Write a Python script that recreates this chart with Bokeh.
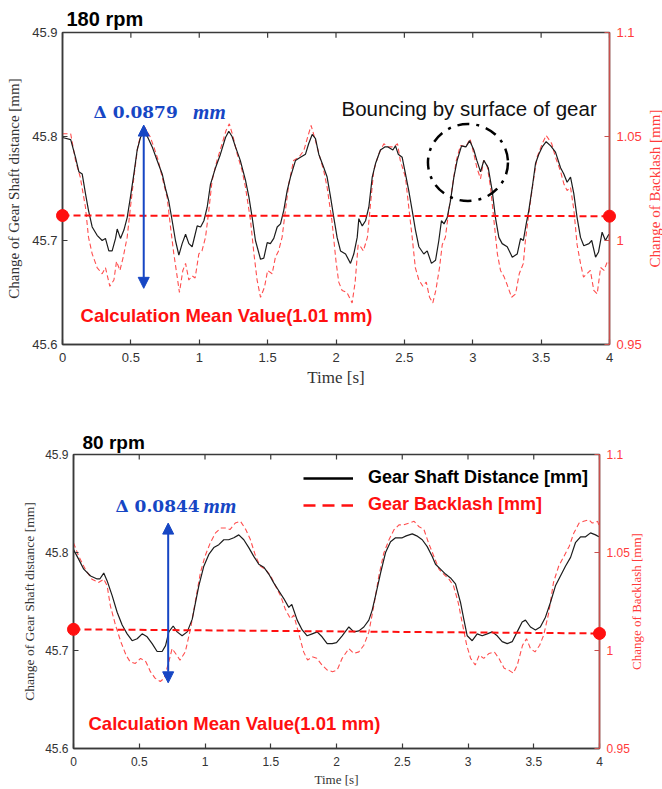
import math
from bokeh.plotting import figure
from bokeh.models import (Range1d, LinearAxis, FixedTicker, CustomJSTickFormatter,
                          Arrow, NormalHead, Legend, LegendItem, Label)
from bokeh.core.properties import value
from bokeh.embed import file_html
from bokeh.resources import INLINE

# ---------------- data: 180 rpm ----------------
top_t_gsd = [0.00, 0.06, 0.095, 0.12, 0.144, 0.168, 0.19, 0.217, 0.253, 0.29, 0.314, 0.339, 0.363, 0.388, 0.40,
             0.424, 0.449, 0.473, 0.497, 0.522, 0.546, 0.57, 0.595, 0.624, 0.656, 0.692, 0.729, 0.753, 0.777,
             0.802, 0.826, 0.851, 0.875, 0.90, 0.924, 0.948, 0.985, 1.01, 1.034, 1.058, 1.082, 1.119, 1.155,
             1.192, 1.216, 1.24, 1.265, 1.30, 1.338, 1.363, 1.387, 1.411, 1.448, 1.472, 1.497, 1.52, 1.545,
             1.57, 1.594, 1.618, 1.643, 1.667, 1.704, 1.74, 1.777, 1.80, 1.826, 1.85, 1.874, 1.911, 1.935,
             1.96, 1.984, 2.008, 2.033, 2.07, 2.106, 2.13, 2.155, 2.167, 2.192, 2.216, 2.24, 2.265, 2.289,
             2.325, 2.357, 2.38, 2.416, 2.435, 2.455, 2.484, 2.508, 2.532, 2.557, 2.581, 2.606, 2.642, 2.667,
             2.698, 2.728, 2.752, 2.771, 2.79, 2.813, 2.837, 2.862, 2.886, 2.918, 2.95, 2.978, 3.008, 3.03,
             3.057, 3.081, 3.113, 3.142, 3.166, 3.191, 3.215, 3.252, 3.289, 3.325, 3.35, 3.37, 3.391, 3.41,
             3.435, 3.459, 3.483, 3.508, 3.537, 3.57, 3.605, 3.642, 3.666, 3.69, 3.715, 3.739, 3.763, 3.788,
             3.812, 3.85, 3.87, 3.898, 3.92, 3.946, 3.97, 3.995]
top_gsd = [45.799, 45.797, 45.780, 45.766, 45.764, 45.745, 45.729, 45.713, 45.705, 45.700, 45.702, 45.690,
           45.690, 45.702, 45.711, 45.702, 45.710, 45.722, 45.742, 45.764, 45.787, 45.799, 45.805, 45.799,
           45.790, 45.777, 45.764, 45.750, 45.738, 45.719, 45.700, 45.686, 45.697, 45.706, 45.697, 45.694,
           45.714, 45.713, 45.719, 45.732, 45.754, 45.770, 45.783, 45.799, 45.805, 45.800, 45.790, 45.777,
           45.758, 45.742, 45.722, 45.700, 45.682, 45.683, 45.698, 45.697, 45.702, 45.713, 45.716, 45.729,
           45.748, 45.761, 45.777, 45.780, 45.783, 45.793, 45.802, 45.798, 45.783, 45.770, 45.761, 45.742,
           45.722, 45.703, 45.690, 45.687, 45.678, 45.687, 45.703, 45.721, 45.714, 45.719, 45.732, 45.761,
           45.774, 45.787, 45.790, 45.790, 45.787, 45.791, 45.783, 45.780, 45.764, 45.748, 45.729, 45.710,
           45.694, 45.687, 45.690, 45.678, 45.681, 45.700, 45.719, 45.716, 45.722, 45.738, 45.761, 45.777,
           45.791, 45.790, 45.796, 45.787, 45.777, 45.766, 45.777, 45.770, 45.748, 45.722, 45.703, 45.697,
           45.694, 45.684, 45.687, 45.702, 45.700, 45.716, 45.729, 45.751, 45.774, 45.783, 45.790, 45.795,
           45.791, 45.785, 45.770, 45.764, 45.756, 45.761, 45.745, 45.722, 45.703, 45.695, 45.697, 45.700,
           45.684, 45.689, 45.708, 45.700, 45.706]

top_t_bl = [0.00, 0.06, 0.095, 0.13, 0.168, 0.19, 0.217, 0.253, 0.29, 0.314, 0.346, 0.376, 0.395, 0.42, 0.444,
            0.473, 0.497, 0.522, 0.55, 0.58, 0.60, 0.64, 0.668, 0.70, 0.729, 0.765, 0.79, 0.814, 0.839, 0.855,
            0.88, 0.90, 0.924, 0.948, 0.97, 0.997, 1.02, 1.046, 1.07, 1.094, 1.13, 1.167, 1.196, 1.22, 1.247,
            1.277, 1.313, 1.338, 1.375, 1.40, 1.423, 1.448, 1.477, 1.50, 1.533, 1.557, 1.58, 1.606, 1.63,
            1.655, 1.69, 1.728, 1.765, 1.794, 1.818, 1.85, 1.882, 1.91, 1.935, 1.97, 2.00, 2.02, 2.045, 2.08,
            2.118, 2.14, 2.162, 2.18, 2.20, 2.23, 2.25, 2.276, 2.313, 2.35, 2.38, 2.42, 2.45, 2.47, 2.508,
            2.532, 2.557, 2.58, 2.606, 2.635, 2.66, 2.684, 2.708, 2.73, 2.757, 2.777, 2.80, 2.825, 2.85, 2.88,
            2.91, 2.95, 2.98, 3.008, 3.03, 3.057, 3.08, 3.105, 3.13, 3.155, 3.18, 3.203, 3.23, 3.25, 3.284,
            3.313, 3.34, 3.37, 3.385, 3.41, 3.44, 3.47, 3.508, 3.537, 3.578, 3.605, 3.64, 3.666, 3.69, 3.715,
            3.74, 3.763, 3.788, 3.81, 3.835, 3.86, 3.885, 3.91, 3.935, 3.96, 3.985, 4.00]
top_bl = [1.0513, 1.0513, 1.0385, 1.0304, 1.016, 1.0016, 0.9936, 0.987, 0.984, 0.987, 0.978, 0.981, 0.990,
          0.9856, 0.992, 1.0016, 1.016, 1.0304, 1.0449, 1.0529, 1.0545, 1.050, 1.045, 1.0385, 1.0304, 1.0208,
          1.0064, 0.9936, 0.9824, 0.975, 0.9856, 0.989, 0.981, 0.983, 0.982, 0.9936, 0.995, 1.0016, 1.0144,
          1.0288, 1.0385, 1.0465, 1.0529, 1.0561, 1.050, 1.0417, 1.0337, 1.0256, 1.0096, 0.9936, 0.981,
          0.9727, 0.9775, 0.9856, 0.984, 0.992, 0.995, 1.0016, 1.0144, 1.0273, 1.0385, 1.040, 1.0433, 1.050,
          1.0553, 1.048, 1.040, 1.0337, 1.0256, 1.0096, 0.990, 0.980, 0.976, 0.975, 0.970, 0.980, 0.998,
          0.997, 0.995, 1.0016, 1.016, 1.0337, 1.0417, 1.0465, 1.045, 1.045, 1.0465, 1.0385, 1.0304, 1.016,
          1.0016, 0.987, 0.981, 0.978, 0.980, 0.9727, 0.970, 0.976, 0.987, 0.998, 1.0016, 1.0144, 1.0256,
          1.0385, 1.0457, 1.045, 1.0489, 1.0417, 1.035, 1.0297, 1.0385, 1.036, 1.0256, 1.0096, 0.9936,
          0.9856, 0.9824, 0.979, 0.9727, 0.9743, 0.984, 0.989, 1.000, 1.0128, 1.0273, 1.040, 1.0465, 1.0505,
          1.0465, 1.040, 1.0337, 1.0273, 1.024, 1.0256, 1.0144, 0.998, 0.989, 0.9824, 0.984, 0.9856, 0.976,
          0.9743, 0.987, 0.9856, 0.990, 0.989]
top_mean = [1.012, 1.0117]

# ---------------- data: 80 rpm ----------------
bot_t_gsd = [0.00, 0.04, 0.078, 0.13, 0.18, 0.20, 0.23, 0.256, 0.294, 0.332, 0.37, 0.408, 0.446, 0.484, 0.522,
             0.56, 0.598, 0.636, 0.674, 0.70, 0.725, 0.758, 0.788, 0.826, 0.865, 0.903, 0.928, 0.953, 0.991,
             1.029, 1.067, 1.105, 1.143, 1.18, 1.219, 1.257, 1.295, 1.333, 1.371, 1.409, 1.447, 1.485, 1.523,
             1.561, 1.599, 1.637, 1.66, 1.701, 1.739, 1.777, 1.815, 1.853, 1.89, 1.929, 1.967, 2.00, 2.043,
             2.094, 2.132, 2.17, 2.208, 2.246, 2.271, 2.297, 2.335, 2.373, 2.411, 2.449, 2.50, 2.53, 2.576,
             2.61, 2.652, 2.69, 2.728, 2.753, 2.791, 2.829, 2.867, 2.905, 2.943, 2.968, 2.994, 3.032, 3.07,
             3.108, 3.146, 3.184, 3.222, 3.26, 3.298, 3.336, 3.374, 3.412, 3.437, 3.475, 3.513, 3.55, 3.589,
             3.627, 3.665, 3.703, 3.741, 3.78, 3.817, 3.856, 3.894, 3.932, 3.97, 3.995]
bot_gsd = [45.803, 45.793, 45.783, 45.776, 45.773, 45.773, 45.779, 45.771, 45.756, 45.739, 45.726, 45.717,
           45.710, 45.712, 45.717, 45.714, 45.707, 45.699, 45.699, 45.705, 45.719, 45.725, 45.719, 45.715,
           45.719, 45.732, 45.749, 45.766, 45.786, 45.798, 45.805, 45.808, 45.813, 45.813, 45.815, 45.818,
           45.813, 45.805, 45.796, 45.788, 45.785, 45.778, 45.769, 45.761, 45.753, 45.744, 45.747, 45.731,
           45.721, 45.715, 45.717, 45.719, 45.714, 45.707, 45.707, 45.708, 45.715, 45.724, 45.719, 45.720,
           45.724, 45.731, 45.741, 45.756, 45.779, 45.800, 45.811, 45.815, 45.815, 45.817, 45.819, 45.817,
           45.813, 45.806, 45.796, 45.788, 45.783, 45.778, 45.774, 45.768, 45.749, 45.732, 45.715, 45.710,
           45.717, 45.715, 45.717, 45.719, 45.715, 45.709, 45.707, 45.709, 45.719, 45.729, 45.731, 45.724,
           45.721, 45.724, 45.734, 45.749, 45.766, 45.776, 45.786, 45.795, 45.810, 45.816, 45.816, 45.820,
           45.818, 45.816]

bot_t_bl = [0.00, 0.04, 0.09, 0.14, 0.19, 0.23, 0.256, 0.28, 0.32, 0.36, 0.40, 0.43, 0.47, 0.51, 0.55, 0.585,
            0.62, 0.66, 0.69, 0.725, 0.75, 0.785, 0.81, 0.85, 0.89, 0.93, 0.965, 1.00, 1.04, 1.08, 1.12, 1.16,
            1.19, 1.23, 1.27, 1.31, 1.345, 1.385, 1.42, 1.46, 1.50, 1.535, 1.575, 1.61, 1.65, 1.675, 1.71,
            1.75, 1.78, 1.815, 1.85, 1.89, 1.93, 1.97, 2.005, 2.043, 2.094, 2.132, 2.17, 2.208, 2.246, 2.284,
            2.322, 2.36, 2.40, 2.437, 2.475, 2.51, 2.55, 2.59, 2.625, 2.665, 2.70, 2.74, 2.78, 2.815, 2.855,
            2.89, 2.925, 2.955, 2.99, 3.02, 3.055, 3.085, 3.12, 3.16, 3.20, 3.235, 3.275, 3.31, 3.345, 3.375,
            3.415, 3.445, 3.475, 3.51, 3.545, 3.575, 3.615, 3.65, 3.69, 3.73, 3.77, 3.805, 3.845, 3.88, 3.92,
            3.945, 3.985, 4.00]
bot_bl = [1.0549, 1.0481, 1.0414, 1.0364, 1.0347, 1.0364, 1.033, 1.0229, 1.0128, 1.0044, 0.9976, 0.9943,
          0.9934, 0.996, 0.9943, 0.9892, 0.9859, 0.9842, 0.9859, 0.9943, 1.001, 0.9976, 0.9951, 0.9993,
          1.0111, 1.0263, 1.0397, 1.0481, 1.0549, 1.060, 1.0625, 1.0625, 1.0617, 1.065, 1.0659, 1.0617,
          1.0566, 1.0481, 1.0431, 1.0414, 1.038, 1.033, 1.0279, 1.0212, 1.0162, 1.018, 1.0094, 0.9993,
          0.9951, 0.9968, 0.996, 0.9926, 0.990, 0.9892, 0.990, 0.996, 1.001, 0.9985, 0.9993, 1.0027, 1.0094,
          1.0229, 1.038, 1.0498, 1.0566, 1.0616, 1.0641, 1.0641, 1.065, 1.0659, 1.0633, 1.0617, 1.0549,
          1.0481, 1.0414, 1.039, 1.0364, 1.033, 1.0246, 1.0145, 1.0027, 0.996, 0.9926, 0.9976, 0.996, 0.9985,
          0.9993, 0.996, 0.9909, 0.990, 0.9884, 0.9926, 1.0027, 1.006, 1.001, 0.9993, 1.0027, 1.0077, 1.0195,
          1.0347, 1.0431, 1.0481, 1.0532, 1.060, 1.065, 1.0659, 1.0667, 1.065, 1.0659, 1.0633]
bot_mean = [1.0108, 1.0087]

mean_t = [0, 4]
x_ticks = [0, 0.5, 1, 1.5, 2, 2.5, 3, 3.5, 4]
y_ticks = [45.6, 45.7, 45.8, 45.9]
r_ticks = [0.95, 1.0, 1.05, 1.1]
legend_labels = ["Gear Shaft Distance [mm]", "Gear Backlash [mm]"]

BLACK = "#1c1c1c"
RED_DATA = "#ff4d4d"
RED = "#ff1010"
BLUE = "#1646c4"
AXIS = "#3a3a3a"
RAXIS = "#c8504c"
RLAB = "#ff3b3b"


def fmt():
    return CustomJSTickFormatter(code="return String(Math.round(tick*100)/100);")


def style_axis(ax, line_color, lab_color, tick_fs, lab_fs):
    ax.axis_line_color = line_color
    ax.axis_line_width = 1.5
    ax.major_tick_line_color = line_color
    ax.major_tick_line_width = 1.2
    ax.major_tick_in = 5
    ax.major_tick_out = 0
    ax.minor_tick_line_color = None
    ax.major_label_text_color = lab_color
    ax.major_label_text_font = "Liberation Sans"
    ax.major_label_text_font_size = tick_fs
    ax.axis_label_text_font = "Liberation Serif"
    ax.axis_label_text_font_style = "normal"
    ax.axis_label_text_color = lab_color
    ax.axis_label_text_font_size = lab_fs


def build(title, h, bl, br, bt, bb, t_g, g, t_b, b, mean, cfg):
    p = figure(width=662, height=h, output_backend="svg", toolbar_location=None,
               x_range=Range1d(0, 4), y_range=Range1d(45.6, 45.9),
               min_border_left=bl, min_border_right=br, min_border_top=bt, min_border_bottom=bb)
    p.extra_y_ranges = {"bl": Range1d(0.95, 1.1)}
    p.xgrid.visible = False
    p.ygrid.visible = False
    p.outline_line_color = AXIS
    p.outline_line_width = 1.5

    p.title.text = title
    p.title.text_font = "Liberation Sans"
    p.title.text_font_size = cfg["title_fs"]
    p.title.text_font_style = "bold"
    p.title.text_color = "black"
    p.title.align = "left"
    p.title.offset = cfg["title_off"]
    p.title.standoff = cfg["title_standoff"]

    # bottom axis
    xa = p.xaxis[0]
    xa.ticker = FixedTicker(ticks=x_ticks)
    xa.formatter = fmt()
    xa.axis_label = "Time [s]"
    style_axis(xa, AXIS, "#333333", cfg["tick_fs"], cfg["xlab_fs"])
    xa.major_label_standoff = cfg["x_standoff"]
    xa.axis_label_standoff = 3

    # left axis
    ya = p.yaxis[0]
    ya.ticker = FixedTicker(ticks=y_ticks)
    ya.formatter = fmt()
    ya.axis_label = "Change of Gear Shaft distance [mm]"
    style_axis(ya, AXIS, "#333333", cfg["tick_fs"], cfg["llab_fs"])
    ya.axis_label_standoff = cfg["l_standoff"]

    # top border ticks (pointing inward), placed at the x tick positions
    p.segment(x0=x_ticks, y0=[45.9] * len(x_ticks), x1=x_ticks,
              y1=[45.9 - cfg["top_tick"]] * len(x_ticks), line_color=AXIS, line_width=1.2)

    # right axis
    ra = LinearAxis(y_range_name="bl", ticker=FixedTicker(ticks=r_ticks), formatter=fmt())
    style_axis(ra, RAXIS, RLAB, cfg["tick_fs"], cfg["rlab_fs"])
    ra.major_label_standoff = 7
    p.add_layout(ra, "right")
    # right axis title, reading bottom-to-top like the left one
    rt = p.text(x=[4], y=[1.025], y_range_name="bl", text=["Change of Backlash [mm]"],
                angle=math.pi / 2, x_offset=cfg["rlab_off"],
                text_font=value("Liberation Serif"), text_font_size=value(cfg["rlab_fs"]),
                text_color=RLAB, text_align="center", text_baseline="middle")
    rt.level = "overlay"

    # data
    p.line(t_b, b, y_range_name="bl", line_color=RED_DATA, line_width=1.1, line_dash="5 3")
    p.line(t_g, g, line_color=BLACK, line_width=1.2)

    # mean line
    p.line(mean_t, mean, y_range_name="bl", line_color=RED, line_width=2, line_dash="7 4")
    dots = p.scatter(mean_t, mean, y_range_name="bl", size=12, color=RED)
    dots.level = "overlay"

    # arrow
    head = dict(size=11, fill_color=BLUE, line_color=BLUE)
    p.add_layout(Arrow(start=NormalHead(**head), end=NormalHead(**head),
                       x_start=cfg["arrow_x"], y_start=cfg["arrow_y"][0],
                       x_end=cfg["arrow_x"], y_end=cfg["arrow_y"][1],
                       line_color=BLUE, line_width=2))
    # delta text
    p.add_layout(Label(x=cfg["delta_x"], y=cfg["delta_y"], text=cfg["delta"],
                       text_font="DejaVu Serif", text_font_style="bold", text_font_size="17px",
                       text_color=BLUE, text_baseline="middle", text_align="left"))
    p.add_layout(Label(x=cfg["mm_x"], y=cfg["delta_y"], text="mm",
                       text_font="Liberation Serif", text_font_style="bold italic", text_font_size="21px",
                       text_color=BLUE, text_baseline="middle", text_align="left"))
    # mean text
    p.add_layout(Label(x=cfg["calc_x"], y=cfg["calc_y"], text="Calculation Mean Value(1.01 mm)",
                       text_font="Liberation Sans", text_font_style="bold", text_font_size="18.5px",
                       text_color=RED, text_baseline="middle", text_align="left"))
    return p


cfg_top = dict(title_fs="20px", title_off=4, title_standoff=6, tick_fs="13px", xlab_fs="17px",
               llab_fs="15px", rlab_fs="15px", x_standoff=8, l_standoff=7, rlab_off=45, top_tick=0.005,
               arrow_x=0.594, arrow_y=(45.654, 45.811), delta="Δ 0.0879", delta_x=0.227,
               delta_y=45.824, mm_x=0.955, calc_x=0.132, calc_y=45.628)
cfg_bot = dict(title_fs="19px", title_off=9, title_standoff=4, tick_fs="12px", xlab_fs="13px",
               llab_fs="13.5px", rlab_fs="13px", x_standoff=8, l_standoff=5, rlab_off=37, top_tick=0.005,
               arrow_x=0.72, arrow_y=(45.667, 45.83), delta="Δ 0.0844", delta_x=0.319,
               delta_y=45.847, mm_x=0.989, calc_x=0.114, calc_y=45.626)

p1 = build("180 rpm", 395, 62, 53, 32, 51, top_t_gsd, top_gsd, top_t_bl, top_bl, top_mean, cfg_top)
p1.ellipse(x=[2.965], y=[45.775], width=0.585, height=0.074, fill_alpha=0,
           line_color="black", line_width=2.5, line_dash="12 7 3 7")
p1.add_layout(Label(x=2.04, y=45.827, text="Bouncing by surface of gear",
                    text_font="Liberation Sans", text_font_size="20.5px", text_color="#111111",
                    text_baseline="middle", text_align="left"))

p2 = build("80 rpm", 394, 73, 63, 59, 38, bot_t_gsd, bot_gsd, bot_t_bl, bot_bl, bot_mean, cfg_bot)
# legend sample renderers: drawn outside the visible x range, only their legend glyphs show
lk = p2.line(x=[-10, -9], y=[45.7, 45.7], line_color="black", line_width=2.5)
lr = p2.line(x=[-10, -9], y=[45.7, 45.7], line_color=RED, line_width=2.5, line_dash="12 7")
for r, lab, col, loc in [(lk, legend_labels[0], "black", (230, 260)),
                         (lr, legend_labels[1], RED, (230, 233))]:
    leg = Legend(items=[LegendItem(label=lab, renderers=[r])], location=loc,
                 label_text_font="Liberation Sans", label_text_font_style="bold",
                 label_text_font_size="18px", label_text_color=col,
                 glyph_width=50, glyph_height=20, label_height=20, label_standoff=15,
                 padding=0, margin=0, spacing=0, border_line_alpha=0, background_fill_alpha=0)
    p2.add_layout(leg)

open("out.html", "w").write(file_html([p1, p2], INLINE))
